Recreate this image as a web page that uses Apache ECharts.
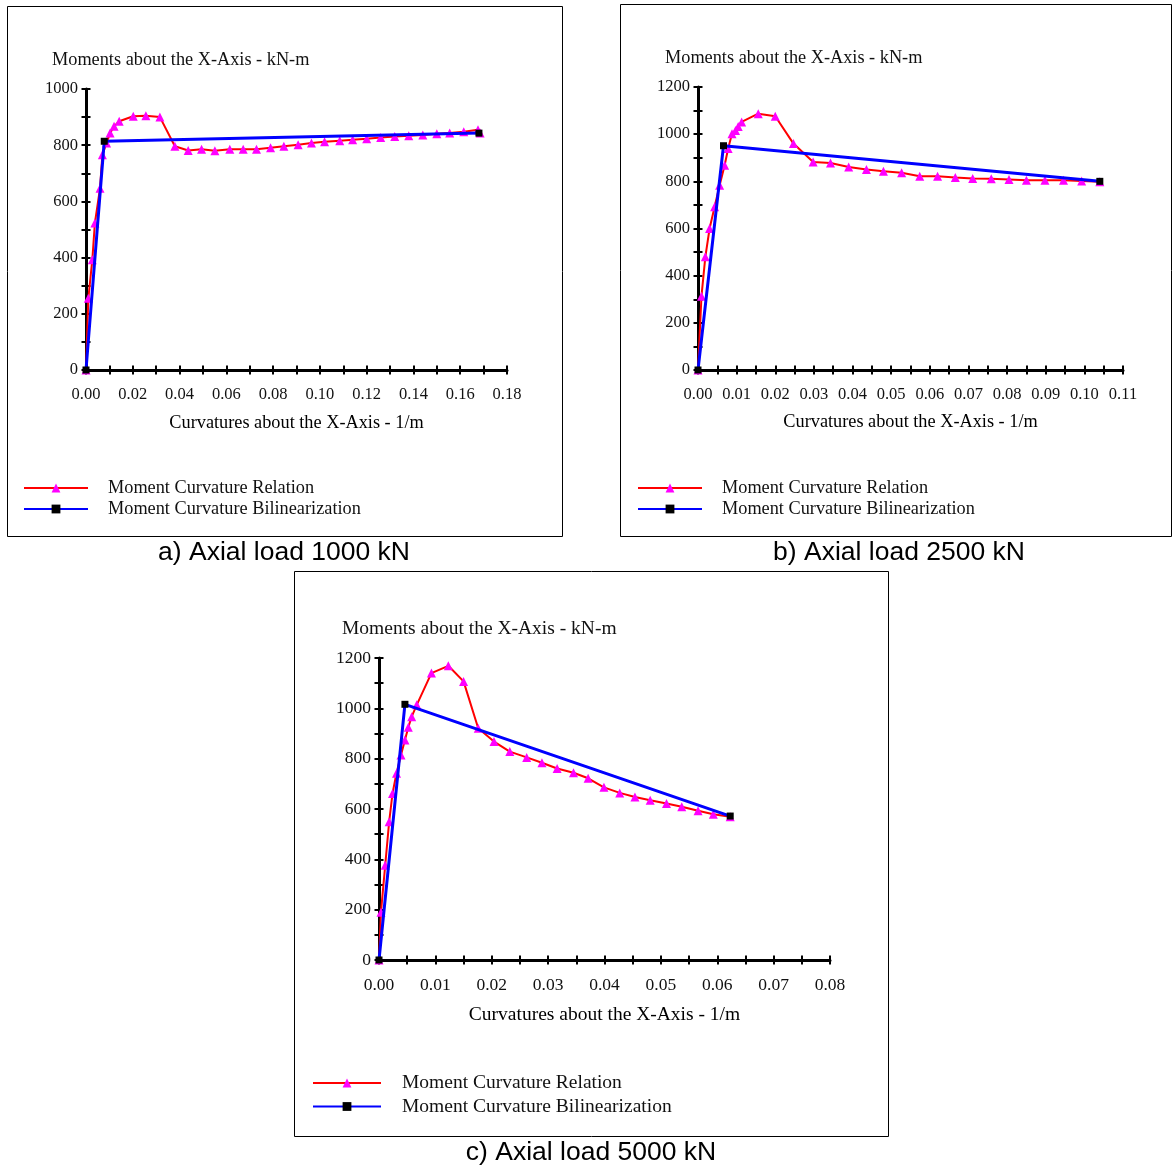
<!DOCTYPE html>
<html>
<head>
<meta charset="utf-8">
<script src="https://cdn.jsdelivr.net/npm/echarts@6/dist/echarts.min.js"></script>
<style>
html,body{margin:0;padding:0;background:#fff;}
#main{width:1172px;height:1169px;}
</style>
</head>
<body>
<div id="main"></div>
<script>
// ---------- data ----------
const curvA = [0, 0.001, 0.0027, 0.0038, 0.006, 0.007, 0.0088, 0.0103, 0.012, 0.0142, 0.0202, 0.0256, 0.0316, 0.038, 0.0437, 0.0494, 0.0551, 0.0615, 0.0672, 0.0729, 0.0789, 0.0846, 0.0907, 0.0964, 0.102, 0.1085, 0.114, 0.12, 0.126, 0.132, 0.138, 0.144, 0.150, 0.1555, 0.1615, 0.1676, 0.1685];
const momA  = [0, 255, 392, 523, 647, 766, 808, 843, 867, 885, 903, 905, 900, 796, 781, 786, 780, 786, 786, 786, 791, 796, 802, 808, 812, 816, 819, 823, 827, 831, 834, 836, 841, 843, 848, 855, 843];
const bilCurvA = [0, 0.0078, 0.168];
const bilMomA  = [0, 814, 843];

const curvB = [0, 0.0009, 0.0019, 0.003, 0.0043, 0.0056, 0.0069, 0.0078, 0.0088, 0.0097, 0.0104, 0.0113, 0.0156, 0.020, 0.0247, 0.0298, 0.0343, 0.039, 0.0436, 0.048, 0.0527, 0.0574, 0.062, 0.0666, 0.0711, 0.0759, 0.0805, 0.085, 0.0898, 0.0946, 0.0993, 0.104];
const momB  = [0, 313, 480, 600, 692, 783, 868, 939, 1002, 1016, 1033, 1052, 1087, 1076, 960, 882, 878, 861, 850, 843, 836, 822, 822, 816, 812, 811, 808, 805, 805, 805, 801, 798];
const bilCurvB = [0, 0.0066, 0.104];
const bilMomB  = [0, 951, 800];

const curvC = [0, 0.00035, 0.0011, 0.0018, 0.0024, 0.0031, 0.0039, 0.0046, 0.0052, 0.0058, 0.0067, 0.0093, 0.0123, 0.015, 0.0176, 0.0204, 0.0232, 0.0262, 0.0289, 0.0316, 0.0345, 0.0371, 0.0399, 0.0427, 0.0454, 0.0481, 0.051, 0.0537, 0.0566, 0.0593, 0.0623];
const momC  = [0, 190, 376, 549, 662, 742, 815, 874, 925, 967, 1014, 1140, 1169, 1107, 921, 868, 828, 805, 784, 761, 744, 722, 686, 664, 648, 635, 622, 609, 593, 579, 569];
const bilCurvC = [0, 0.0046, 0.0623];
const bilMomC  = [0, 1016, 572];

const xMaxes = [0.18, 0.11, 0.08];
const xIntervals = [0.02, 0.01, 0.01];
const yMaxes = [1000, 1200, 1200];
const yInterval = 200;

const titleText = 'Moments about the X-Axis - kN-m';
const xNameText = 'Curvatures about the X-Axis - 1/m';
const relName = 'Moment Curvature Relation';
const bilName = 'Moment Curvature Bilinearization';
const captions = ['a) Axial load 1000 kN', 'b) Axial load 2500 kN', 'c) Axial load 5000 kN'];

// ---------- layout ----------
const SERIF = '"Liberation Serif", "Times New Roman", serif';
const SANS = '"Liberation Sans", Arial, sans-serif';
const panels = [
  {grid:{left:86, top:89, width:421, height:281}, title:[52,51], legend:[23,479], legW:64, legPad:15,
   fs:18.3, tfs:16.5, nameGap:44, border:[7,6,555,530], cap:[284,553], gap:3},
  {grid:{left:698, top:87, width:425, height:283}, title:[665,49], legend:[637,479], legW:64, legPad:15,
   fs:18.3, tfs:16.5, nameGap:43, border:[620,4,551,532], cap:[899,553], gap:3},
  {grid:{left:379, top:658, width:451, height:302}, title:[342,619], legend:[312,1073], legW:68, legPad:16,
   fs:19.5, tfs:17.5, nameGap:45, border:[294,571,594,565], cap:[591,1153], gap:3.5}
];

const pairs = (xs, ys) => xs.map((x, i) => [x, ys[i]]);
const relData = [pairs(curvA, momA), pairs(curvB, momB), pairs(curvC, momC)];
const bilData = [pairs(bilCurvA, bilMomA), pairs(bilCurvB, bilMomB), pairs(bilCurvC, bilMomC)];

const tickLine = {color:'#000', width:2};
const TL = 4.5;   // half tick length (ticks cross the axis line)
const xAxes = [], yAxes = [], series = [], titles = [], legends = [], grids = [], graphics = [];

panels.forEach((p, i) => {
  grids.push(Object.assign({}, p.grid));
  const common = {gridIndex:i, type:'value', min:0, splitLine:{show:false}};
  // primary x axis: axis line + name
  xAxes.push(Object.assign({}, common, {
    max:xMaxes[i], interval:xIntervals[i], position:'bottom',
    name:xNameText, nameLocation:'middle', nameGap:p.nameGap,
    nameTextStyle:{fontFamily:SERIF, fontSize:p.fs, color:'#000'},
    axisLine:{show:true, onZero:false, lineStyle:{color:'#000', width:3}},
    axisTick:{show:false}, minorTick:{show:false},
    axisLabel:{show:false}
  }));
  // secondary x axis: shifted inward so its ticks cross the line, carries the labels
  xAxes.push(Object.assign({}, common, {
    max:xMaxes[i], interval:xIntervals[i], position:'bottom', offset:-TL,
    axisLine:{show:false, onZero:false},
    axisTick:{show:true, inside:false, length:2*TL, lineStyle:tickLine},
    minorTick:{show:true, splitNumber:2, length:2*TL, lineStyle:tickLine},
    axisLabel:{show:true, margin:16+TL, fontFamily:SERIF, fontSize:p.tfs, color:'#111',
      formatter:v => v.toFixed(2)}
  }));
  yAxes.push(Object.assign({}, common, {
    max:yMaxes[i], interval:yInterval, position:'left',
    axisLine:{show:true, onZero:false, lineStyle:{color:'#000', width:3}},
    axisTick:{show:false}, minorTick:{show:false},
    axisLabel:{show:false}
  }));
  yAxes.push(Object.assign({}, common, {
    max:yMaxes[i], interval:yInterval, position:'left', offset:-TL,
    axisLine:{show:false, onZero:false},
    axisTick:{show:true, inside:false, length:2*TL, lineStyle:tickLine},
    minorTick:{show:true, splitNumber:2, length:2*TL, lineStyle:tickLine},
    axisLabel:{show:true, margin:8+TL, fontFamily:SERIF, fontSize:p.tfs, color:'#111',
      formatter:v => String(v)}
  }));
  series.push({
    name:relName, type:'line', xAxisIndex:2*i, yAxisIndex:2*i, data:relData[i],
    symbol:'triangle', symbolSize:9, showAllSymbol:true, clip:false,
    lineStyle:{color:'#ff0000', width:2}, itemStyle:{color:'#ff00ff'},
    emphasis:{disabled:true}, z:2
  });
  series.push({
    name:bilName, type:'line', xAxisIndex:2*i, yAxisIndex:2*i, data:bilData[i],
    symbol:'rect', symbolSize:7, showAllSymbol:true, clip:false,
    lineStyle:{color:'#0000ff', width:3}, itemStyle:{color:'#000'},
    emphasis:{disabled:true}, z:3
  });
  titles.push({
    text:titleText, left:p.title[0], top:p.title[1], padding:0,
    textStyle:{fontFamily:SERIF, fontSize:p.fs, fontWeight:'normal', color:'#111'}
  });
  legends.push({
    orient:'vertical', left:p.legend[0], top:p.legend[1], padding:0,
    itemWidth:p.legW, itemHeight:11, itemGap:p.gap,
    data:[relName, bilName], selectedMode:false,
    textStyle:{fontFamily:SERIF, fontSize:p.fs, color:'#111', padding:[0,0,0,p.legPad]}
  });
  graphics.push({
    type:'rect', shape:{x:p.border[0]+0.5, y:p.border[1]+0.5, width:p.border[2], height:p.border[3]},
    style:{fill:null, stroke:'#000', lineWidth:1}, silent:true
  });
  graphics.push({
    type:'text', x:p.cap[0], y:p.cap[1],
    style:{text:captions[i], font:'26.5px ' + SANS, fill:'#000', textAlign:'center', textVerticalAlign:'middle'},
    silent:true
  });
});

const chart = echarts.init(document.getElementById('main'), null, {renderer:'canvas'});
chart.setOption({
  animation:false,
  backgroundColor:'#fff',
  title:titles,
  legend:legends,
  grid:grids,
  xAxis:xAxes,
  yAxis:yAxes,
  series:series,
  graphic:graphics
});
</script>
</body>
</html>
